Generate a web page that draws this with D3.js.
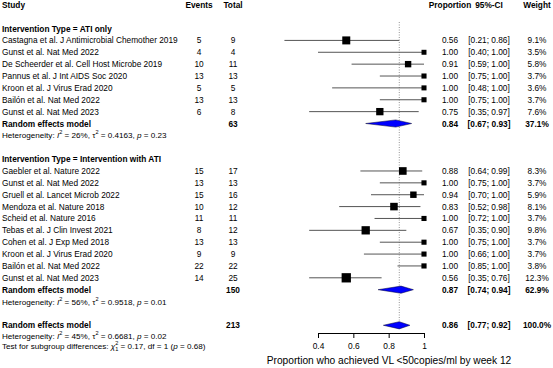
<!DOCTYPE html>
<html><head><meta charset="utf-8">
<script src="https://cdn.jsdelivr.net/npm/d3@7"></script>
<style>body{margin:0;background:#fff}svg{display:block;font-family:"Liberation Sans",Arial,sans-serif}</style>
</head><body><svg id="c" width="553" height="368"></svg>
<script>
const group1Label = "Intervention Type = ATI only";
const group1Studies = ["Castagna et al. J Antimicrobial Chemother 2019","Gunst et al. Nat Med 2022","De Scheerder et al. Cell Host Microbe 2019","Pannus et al. J Int AIDS Soc 2020","Kroon et al. J Virus Erad 2020","Bailón et al. Nat Med 2022","Gunst et al. Nat Med 2023"];
const group1Events = [5,4,10,13,5,13,6];
const group1Total = [9,4,11,13,5,13,8];
const group1Prop = [0.56,1.00,0.91,1.00,1.00,1.00,0.75];
const group1Lower = [0.21,0.40,0.59,0.75,0.48,0.75,0.35];
const group1Upper = [0.86,1.00,1.00,1.00,1.00,1.00,0.97];
const group1Weight = [9.1,3.5,5.8,3.7,3.6,3.7,7.6];
const group1Pooled = {total:63, prop:0.84, lower:0.67, upper:0.93, weight:37.1};
const group1Het = {i2:"26%", tau2:"0.4163", p:"0.23"};

const group2Label = "Intervention Type = Intervention with ATI";
const group2Studies = ["Gaebler et al. Nature 2022","Gunst et al. Nat Med 2022","Gruell et al. Lancet Microb 2022","Mendoza et al. Nature 2018","Scheid et al. Nature 2016","Tebas et al. J Clin Invest 2021","Cohen et al. J Exp Med 2018","Kroon et al. J Virus Erad 2020","Bailón et al. Nat Med 2022","Gunst et al. Nat Med 2023"];
const group2Events = [15,13,15,10,11,8,13,9,22,14];
const group2Total = [17,13,16,12,11,12,13,9,22,25];
const group2Prop = [0.88,1.00,0.94,0.83,1.00,0.67,1.00,1.00,1.00,0.56];
const group2Lower = [0.64,0.75,0.70,0.52,0.72,0.35,0.75,0.66,0.85,0.35];
const group2Upper = [0.99,1.00,1.00,0.98,1.00,0.90,1.00,1.00,1.00,0.76];
const group2Weight = [8.3,3.7,5.9,8.1,3.7,9.8,3.7,3.7,3.8,12.3];
const group2Pooled = {total:150, prop:0.87, lower:0.74, upper:0.94, weight:62.9};
const group2Het = {i2:"56%", tau2:"0.9518", p:"0.01"};

const overallPooled = {total:213, prop:0.86, lower:0.77, upper:0.92, weight:100.0};
const overallHet = {i2:"45%", tau2:"0.6681", p:"0.02"};
const subgroupTest = {chi2:"0.17", df:"1", p:"0.68"};

const headers = ["Study","Events","Total","Proportion","95%-CI","Weight"];
const xTicks = [0.4,0.6,0.8,1];
const xLabel = "Proportion who achieved VL <50copies/ml by week 12";

const svg = d3.select("#c");
const x = d3.scaleLinear().domain([0.4,1]).range([318,424]);
const yRow = d3.scaleLinear().domain([0,1]).range([4.8,4.8+11.87]);
const col = {events:199, total:233, prop:450, ci:489, weight:537};
const FS = 8.3, FSsmall = 8.1;
const fmt2 = d3.format(".2f");
const fmtW = d3.format(".1f");

function txt(xp, yp, s, opts={}) {
  return svg.append("text").attr("x",xp).attr("y",yp)
    .attr("dominant-baseline","central")
    .attr("font-size",opts.size||FS)
    .attr("font-weight",opts.bold?"bold":"normal")
    .attr("text-anchor",opts.anchor||"start")
    .attr("fill","#000").text(s);
}

// headers
const hx = [2,col.events,col.total,col.prop,col.ci,col.weight];
headers.forEach((h,i)=>txt(hx[i], yRow(0), h, {bold:true, anchor:i===0?"start":"middle"}));

// reference line
svg.append("line").attr("x1",x(overallPooled.prop)).attr("x2",x(overallPooled.prop))
  .attr("y1",22).attr("y2",yRow(27)-4)
  .attr("stroke","#888").attr("stroke-width",0.9).attr("stroke-dasharray","1,1.5");

function studyRows(startRow, studies, ev, tot, pr, lo, up, w) {
  studies.forEach((s,i)=>{
    const yy = yRow(startRow+i);
    txt(2, yy, s);
    txt(col.events, yy, ev[i], {anchor:"middle"});
    txt(col.total, yy, tot[i], {anchor:"middle"});
    txt(col.prop, yy, fmt2(pr[i]), {anchor:"middle"});
    txt(col.ci, yy, "["+fmt2(lo[i])+"; "+fmt2(up[i])+"]", {anchor:"middle"});
    txt(col.weight, yy, fmtW(w[i])+"%", {anchor:"middle"});
    svg.append("line").attr("x1",x(lo[i])).attr("x2",x(up[i])).attr("y1",yy).attr("y2",yy)
      .attr("stroke","#555").attr("stroke-width",1);
    const side = 2.65*Math.sqrt(w[i]);
    svg.append("rect").attr("x",x(pr[i])-side/2).attr("y",yy-side/2)
      .attr("width",side).attr("height",side).attr("fill","#000");
  });
}

function pooledRow(row, label, p) {
  const yy = yRow(row);
  txt(2, yy, label, {bold:true});
  txt(col.total, yy, p.total, {bold:true, anchor:"middle"});
  txt(col.prop, yy, fmt2(p.prop), {bold:true, anchor:"middle"});
  txt(col.ci, yy, "["+fmt2(p.lower)+"; "+fmt2(p.upper)+"]", {bold:true, anchor:"middle"});
  txt(col.weight, yy, fmtW(p.weight)+"%", {bold:true, anchor:"middle"});
  const h = 3.6;
  const pts = [[x(p.lower),yy],[x(p.prop),yy-h],[x(p.upper),yy],[x(p.prop),yy+h]];
  svg.append("polygon").attr("points",pts.map(d=>d.join(",")).join(" "))
    .attr("fill","#0000ff").attr("stroke","#000033").attr("stroke-width",0.5);
}

function hetRow(yy, h) {
  const t = svg.append("text").attr("x",2).attr("y",yy).attr("dominant-baseline","central")
    .attr("font-size",FSsmall).attr("fill","#000");
  t.append("tspan").text("Heterogeneity: ");
  t.append("tspan").attr("font-style","italic").text("I");
  t.append("tspan").attr("font-size",5.6).attr("dy",-3).text("2");
  t.append("tspan").attr("dy",3).text(" = "+h.i2+", \u03c4");
  t.append("tspan").attr("font-size",5.6).attr("dy",-3).text("2");
  t.append("tspan").attr("dy",3).text(" = "+h.tau2+", ");
  t.append("tspan").attr("font-style","italic").text("p");
  t.append("tspan").text(" = "+h.p);
}

txt(2, yRow(2), group1Label, {bold:true});
studyRows(3, group1Studies, group1Events, group1Total, group1Prop, group1Lower, group1Upper, group1Weight);
pooledRow(10, "Random effects model", group1Pooled);
hetRow(yRow(11), group1Het);

txt(2, yRow(13), group2Label, {bold:true});
studyRows(14, group2Studies, group2Events, group2Total, group2Prop, group2Lower, group2Upper, group2Weight);
pooledRow(24, "Random effects model", group2Pooled);
hetRow(yRow(25), group2Het);

pooledRow(27, "Random effects model", overallPooled);
hetRow(yRow(27)+10.5, overallHet);
{
  const t = svg.append("text").attr("x",2).attr("y",yRow(27)+21).attr("dominant-baseline","central")
    .attr("font-size",FSsmall).attr("fill","#000");
  t.append("tspan").text("Test for subgroup differences: ");
  t.append("tspan").attr("font-style","italic").text("\u03c7");
  t.append("tspan").attr("font-size",5.6).attr("dy",-3).text("2");
  t.append("tspan").attr("font-size",5.6).attr("dx",-3.1).attr("dy",5.5).text("1");
  t.append("tspan").attr("dy",-2.5).text(" = "+subgroupTest.chi2+", df = "+subgroupTest.df+" (");
  t.append("tspan").attr("font-style","italic").text("p");
  t.append("tspan").text(" = "+subgroupTest.p+")");
}

// axis
const axisY = 333;
const ax = svg.append("g").attr("transform",`translate(0,${axisY})`)
  .call(d3.axisBottom(x).tickValues(xTicks).tickFormat(d3.format("~g")).tickSize(5).tickSizeOuter(0).tickPadding(5));
ax.select(".domain").attr("stroke","#000");
ax.selectAll(".tick line").attr("stroke","#000");
ax.selectAll(".tick text").attr("font-size",8.4).attr("font-family","Liberation Sans, Arial, sans-serif").attr("fill","#000");
svg.append("text").attr("x",389).attr("y",360).attr("text-anchor","middle").attr("dominant-baseline","central")
  .attr("font-size",10.2).attr("fill","#000").text(xLabel);
</script></body></html>
